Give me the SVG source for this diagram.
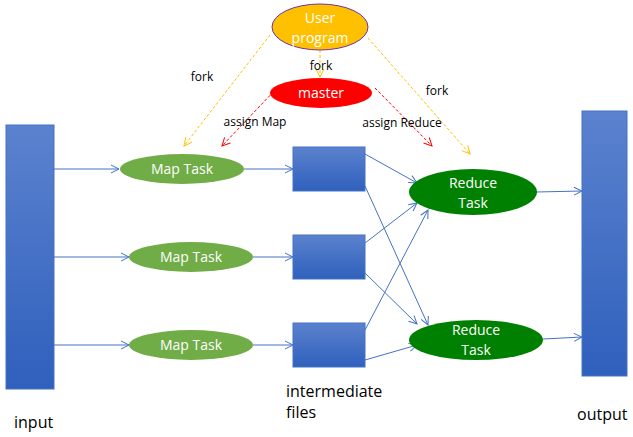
<svg xmlns="http://www.w3.org/2000/svg" width="633" height="437" viewBox="0 0 633 437">
<defs>
<linearGradient id="bg" x1="0" y1="0" x2="0" y2="1"><stop offset="0" stop-color="#5B82CE"/><stop offset="1" stop-color="#2F60BD"/></linearGradient>
<marker id="ab" markerWidth="10" markerHeight="10" refX="9" refY="5" orient="auto" markerUnits="userSpaceOnUse"><path d="M1,1 L9,5 L1,9" fill="none" stroke="#4472C4" stroke-width="1"/></marker>
<marker id="ay" markerWidth="10" markerHeight="10" refX="9" refY="5" orient="auto" markerUnits="userSpaceOnUse"><path d="M1,1 L9,5 L1,9" fill="none" stroke="#FFC000" stroke-width="1"/></marker>
<marker id="ar" markerWidth="10" markerHeight="10" refX="9" refY="5" orient="auto" markerUnits="userSpaceOnUse"><path d="M1,1 L9,5 L1,9" fill="none" stroke="#FF0000" stroke-width="1"/></marker>
</defs>
<style>
text{font-family:"Open Sans","Liberation Sans",sans-serif}
.w{fill:#fff;font-size:14px;text-anchor:middle}
.l{fill:#000;font-size:12px;text-anchor:middle}
.big{fill:#000;font-size:16px}
.bl{stroke:#4472C4;stroke-width:1;fill:none;marker-end:url(#ab)}
.yl{stroke:#FFC000;stroke-width:1;fill:none;stroke-dasharray:3,2;marker-end:url(#ay)}
.rl{stroke:#FF0000;stroke-width:1;fill:none;stroke-dasharray:3,2;marker-end:url(#ar)}
.box{fill:url(#bg);stroke:#4472C4}
.map{fill:#70AD47}
.red{fill:#008000}
</style>
<g id="connectors">
<line class="yl" x1="270" y1="35" x2="184" y2="146"/>
<line class="yl" x1="320" y1="50" x2="320" y2="77"/>
<line class="yl" x1="368" y1="38" x2="470" y2="154"/>
<line class="rl" x1="277" y1="88" x2="222" y2="146"/>
<line class="rl" x1="375" y1="88" x2="432" y2="146"/>
<line class="bl" x1="54" y1="169" x2="119" y2="169"/>
<line class="bl" x1="54" y1="257" x2="129" y2="257"/>
<line class="bl" x1="54" y1="345" x2="129" y2="345"/>
<line class="bl" x1="244" y1="169" x2="293" y2="169"/>
<line class="bl" x1="253" y1="257" x2="293" y2="257"/>
<line class="bl" x1="253" y1="345" x2="293" y2="345"/>
<line class="bl" x1="365" y1="154" x2="417" y2="183"/>
<line class="bl" x1="365" y1="186" x2="428" y2="325"/>
<line class="bl" x1="365" y1="243" x2="417" y2="203"/>
<line class="bl" x1="365" y1="273" x2="417" y2="324"/>
<line class="bl" x1="365" y1="330" x2="428" y2="210"/>
<line class="bl" x1="365" y1="360" x2="417" y2="345"/>
<line class="bl" x1="536" y1="192" x2="582" y2="191"/>
<line class="bl" x1="543" y1="339" x2="582" y2="337"/>
</g>
<g id="labels">
<text class="l" x="202" y="81">fork</text>
<text class="l" x="321" y="70">fork</text>
<text class="l" x="437" y="95">fork</text>
<text class="l" x="255" y="126">assign Map</text>
<text class="l" x="402" y="127">assign Reduce</text>
</g>
<g id="user"><ellipse cx="320" cy="27" rx="48" ry="23" fill="#FFC000" stroke="#7030A0"/><text class="w" x="320" y="23">User</text><text class="w" x="320" y="43">program</text></g>
<g id="master"><ellipse cx="321" cy="93" rx="51" ry="15" fill="#FF0000"/><text class="w" x="321" y="98">master</text></g>
<g id="input"><rect class="box" x="6" y="125" width="48" height="264"/><text class="big" x="14" y="428">input</text></g>
<g id="output"><rect class="box" x="582" y="111" width="45" height="265"/><text class="big" x="577" y="420">output</text></g>
<g id="map1"><ellipse class="map" cx="182" cy="169" rx="62" ry="15"/><text class="w" x="182" y="174">Map Task</text></g>
<g id="map2"><ellipse class="map" cx="191" cy="257" rx="62" ry="15"/><text class="w" x="191" y="262">Map Task</text></g>
<g id="map3"><ellipse class="map" cx="191" cy="345" rx="62" ry="15"/><text class="w" x="191" y="350">Map Task</text></g>
<g id="inter1"><rect class="box" x="293" y="147" width="72" height="44"/></g>
<g id="inter2"><rect class="box" x="293" y="235" width="72" height="44"/></g>
<g id="inter3"><rect class="box" x="293" y="323" width="72" height="44"/></g>
<g id="interlabel"><text class="big" x="286" y="397">intermediate</text><text class="big" x="286" y="418">files</text></g>
<g id="reduce1"><ellipse class="red" cx="473" cy="192" rx="64" ry="23"/><text class="w" x="473" y="188">Reduce</text><text class="w" x="473" y="208">Task</text></g>
<g id="reduce2"><ellipse class="red" cx="476" cy="340" rx="67" ry="20"/><text class="w" x="476" y="335">Reduce</text><text class="w" x="476" y="355">Task</text></g>
</svg>
